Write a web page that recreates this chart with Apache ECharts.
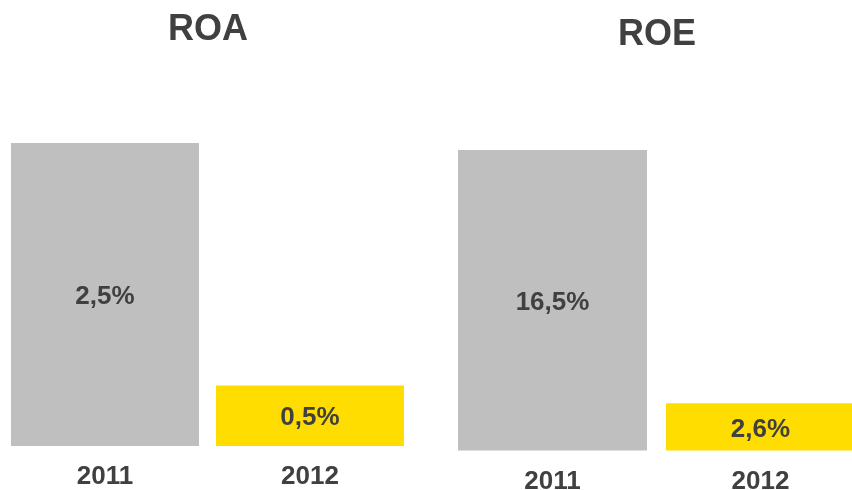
<!DOCTYPE html>
<html>
<head>
<meta charset="utf-8">
<script src="https://cdn.jsdelivr.net/npm/echarts@6/dist/echarts.min.js"></script>
<style>
html,body{margin:0;padding:0;background:#fff;}
#c{width:852px;height:490px;}
</style>
</head>
<body>
<div id="c"></div>
<script>
const categories = ['2011', '2012'];
const roaValues = [2.5, 0.5];
const roeValues = [16.5, 2.6];
const panelTitles = ['ROA', 'ROE'];
const barColors = ['#BFBFBF', '#FFDD00'];

const textColor = '#404040';
const font = '"Liberation Sans", Arial, sans-serif';

function fmt(v) { return v.toFixed(1).replace('.', ',') + '%'; }

function seriesData(vals) {
  return vals.map((v, i) => ({ value: v, itemStyle: { color: barColors[i] } }));
}

const chart = echarts.init(document.getElementById('c'), null, { renderer: 'canvas' });
chart.setOption({
  animation: false,
  backgroundColor: '#ffffff',
  title: [
    { text: panelTitles[0], left: 203, top: 7, textAlign: 'center',
      textStyle: { fontSize: 36, fontWeight: 'bold', color: textColor, fontFamily: font } },
    { text: panelTitles[1], left: 652, top: 12, textAlign: 'center',
      textStyle: { fontSize: 36, fontWeight: 'bold', color: textColor, fontFamily: font } }
  ],
  grid: [
    { left: 2.5, width: 410, top: 143, height: 303, outerBoundsMode: 'none', containLabel: false },
    { left: 448.5, width: 416, top: 150, height: 300.5, outerBoundsMode: 'none', containLabel: false }
  ],
  xAxis: [0, 1].map(i => ({
    type: 'category', gridIndex: i, data: categories,
    axisLine: { show: false }, axisTick: { show: false },
    axisLabel: { fontSize: 26, fontWeight: 'bold', color: textColor, fontFamily: font, margin: 18 }
  })),
  yAxis: [
    { type: 'value', gridIndex: 0, min: 0, max: 2.5, show: false, splitLine: { show: false } },
    { type: 'value', gridIndex: 1, min: 0, max: 16.5, show: false, splitLine: { show: false } }
  ],
  series: [
    { type: 'bar', xAxisIndex: 0, yAxisIndex: 0, barWidth: 188, data: seriesData(roaValues),
      label: { show: true, position: 'inside', offset: [0, 2], formatter: p => fmt(p.value), fontSize: 26, fontWeight: 'bold', color: textColor, fontFamily: font } },
    { type: 'bar', xAxisIndex: 1, yAxisIndex: 1, barWidth: 189, data: seriesData(roeValues),
      label: { show: true, position: 'inside', offset: [0, 3], formatter: p => fmt(p.value), fontSize: 26, fontWeight: 'bold', color: textColor, fontFamily: font } }
  ]
});
</script>
</body>
</html>
